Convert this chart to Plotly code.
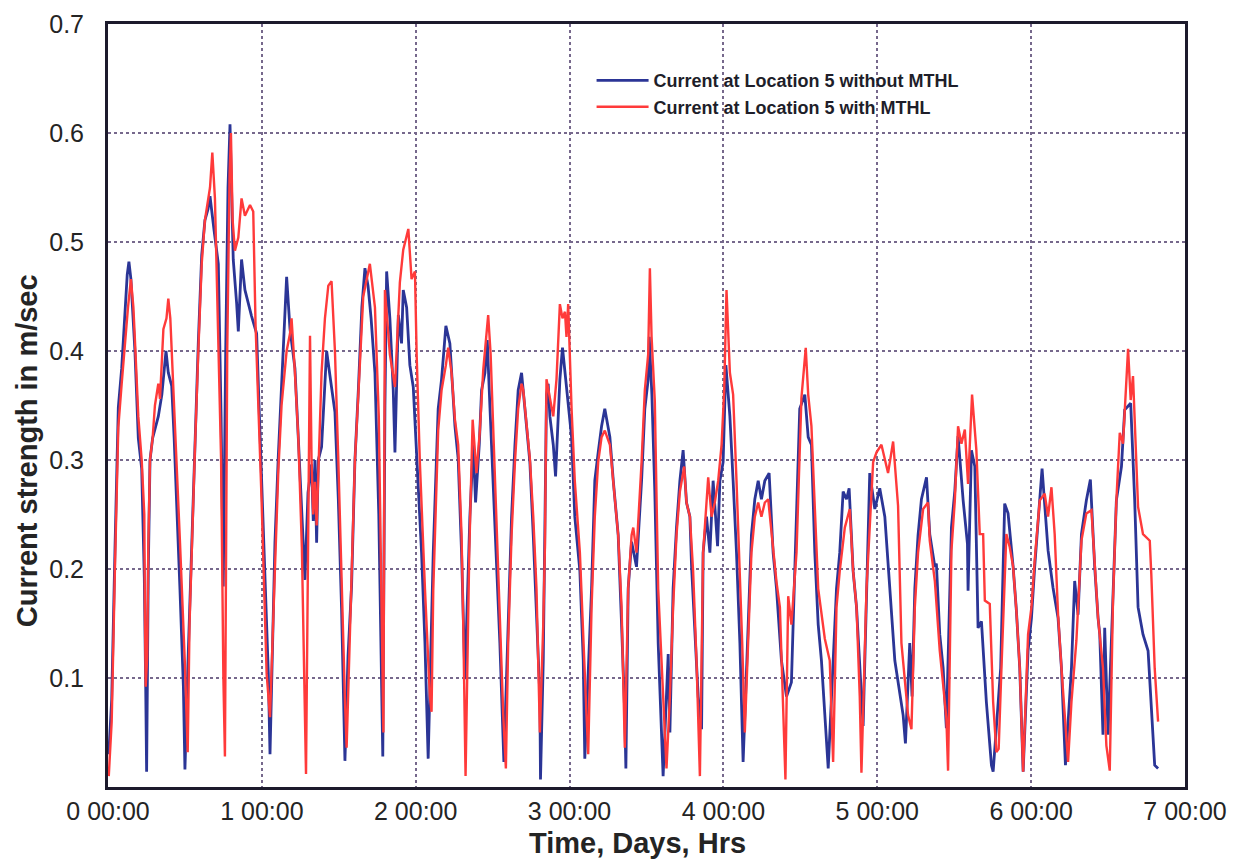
import plotly.graph_objects as go

# ---- data (time in days, current speed in m/s) ----
blue_days = [
    0.005, 0.024, 0.045, 0.067, 0.089, 0.110, 0.125, 0.136, 0.149, 0.175, 0.197, 0.219, 0.236, 0.245, 0.251,
    0.262, 0.273, 0.290, 0.305, 0.327, 0.350, 0.377, 0.392, 0.414, 0.430, 0.446, 0.468, 0.490, 0.500,
    0.522, 0.548, 0.565, 0.587, 0.609, 0.630, 0.650, 0.663, 0.690, 0.717, 0.735, 0.749, 0.765, 0.780,
    0.793, 0.805, 0.814, 0.836, 0.847, 0.868, 0.890, 0.933, 0.966, 0.988, 1.020, 1.042, 1.053,
    1.085, 1.107, 1.128, 1.150, 1.161, 1.183, 1.215, 1.237, 1.269, 1.280, 1.300, 1.323, 1.334, 1.345,
    1.356, 1.367, 1.388, 1.421, 1.440, 1.453, 1.475, 1.497, 1.518, 1.540, 1.560, 1.583, 1.605, 1.627,
    1.650, 1.670, 1.690, 1.710, 1.735, 1.760, 1.778, 1.786, 1.800, 1.811, 1.832, 1.854, 1.865, 1.887,
    1.908, 1.919, 1.941, 1.962, 1.984, 2.006, 2.038, 2.060, 2.081, 2.114, 2.146, 2.168, 2.196, 2.222,
    2.255, 2.276, 2.298, 2.320, 2.352, 2.374, 2.389, 2.413, 2.428, 2.450, 2.465, 2.482, 2.504, 2.525,
    2.547, 2.573, 2.601, 2.623, 2.645, 2.666, 2.688, 2.720, 2.742, 2.764, 2.785, 2.807, 2.811, 2.829,
    2.850, 2.861, 2.872, 2.894, 2.909, 2.937, 2.954, 2.980, 3.013, 3.034, 3.067, 3.089, 3.099, 3.143,
    3.164, 3.186, 3.208, 3.229, 3.262, 3.284, 3.316, 3.338, 3.359, 3.366, 3.381, 3.403, 3.435, 3.468,
    3.489, 3.511, 3.518, 3.535, 3.554, 3.576, 3.608, 3.641, 3.652, 3.673, 3.695, 3.717, 3.738, 3.760,
    3.782, 3.793, 3.814, 3.836, 3.858, 3.868, 3.890, 3.912, 3.933, 3.962, 3.977, 3.998, 4.016, 4.042,
    4.063, 4.085, 4.107, 4.128, 4.161, 4.182, 4.204, 4.226, 4.247, 4.269, 4.297, 4.323, 4.345, 4.377,
    4.410, 4.442, 4.453, 4.475, 4.496, 4.529, 4.551, 4.572, 4.594, 4.616, 4.637, 4.681, 4.735, 4.756,
    4.778, 4.800, 4.817, 4.843, 4.865, 4.908, 4.930, 4.951, 4.984, 5.016, 5.049, 5.081, 5.114, 5.168,
    5.183, 5.211, 5.226, 5.244, 5.265, 5.287, 5.320, 5.341, 5.374, 5.384, 5.395, 5.406, 5.428, 5.449,
    5.482, 5.504, 5.525, 5.547, 5.558, 5.586, 5.590, 5.612, 5.634, 5.655, 5.677, 5.709, 5.742, 5.753,
    5.802, 5.828, 5.850, 5.883, 5.904, 5.926, 5.948, 5.980, 6.002, 6.023, 6.045, 6.071, 6.110, 6.142,
    6.175, 6.197, 6.223, 6.262, 6.283, 6.305, 6.327, 6.359, 6.385, 6.413, 6.435, 6.446, 6.467, 6.478,
    6.500, 6.532, 6.554, 6.587, 6.608, 6.647, 6.673, 6.695, 6.727, 6.760, 6.781, 6.803, 6.825,
]
blue_speed = [
    0.030, 0.080, 0.216, 0.348, 0.384, 0.432, 0.470, 0.482, 0.466, 0.400, 0.320, 0.292, 0.192, 0.092, 0.014,
    0.200, 0.300, 0.320, 0.328, 0.340, 0.360, 0.400, 0.380, 0.368, 0.320, 0.264, 0.180, 0.092, 0.016,
    0.124, 0.240, 0.312, 0.408, 0.488, 0.520, 0.530, 0.542, 0.510, 0.480, 0.340, 0.184, 0.400, 0.550,
    0.608, 0.530, 0.484, 0.444, 0.418, 0.484, 0.456, 0.432, 0.416, 0.324, 0.184, 0.104, 0.030,
    0.224, 0.304, 0.364, 0.430, 0.468, 0.420, 0.384, 0.320, 0.224, 0.190, 0.270, 0.296, 0.244, 0.300,
    0.224, 0.300, 0.312, 0.400, 0.380, 0.368, 0.344, 0.264, 0.164, 0.024, 0.120, 0.184, 0.300, 0.364,
    0.440, 0.476, 0.460, 0.430, 0.380, 0.250, 0.100, 0.028, 0.350, 0.473, 0.430, 0.364, 0.307, 0.433,
    0.407, 0.456, 0.440, 0.387, 0.367, 0.307, 0.215, 0.132, 0.026, 0.215, 0.347, 0.374, 0.423, 0.407,
    0.331, 0.301, 0.215, 0.099, 0.248, 0.314, 0.261, 0.314, 0.364, 0.380, 0.410, 0.350, 0.281, 0.215,
    0.132, 0.023, 0.149, 0.248, 0.314, 0.364, 0.380, 0.331, 0.298, 0.231, 0.165, 0.083, 0.007, 0.116,
    0.360, 0.370, 0.340, 0.314, 0.285, 0.374, 0.403, 0.364, 0.321, 0.248, 0.198, 0.116, 0.026, 0.182,
    0.281, 0.307, 0.331, 0.347, 0.321, 0.281, 0.231, 0.149, 0.066, 0.017, 0.182, 0.225, 0.202, 0.281,
    0.347, 0.374, 0.413, 0.360, 0.271, 0.132, 0.010, 0.122, 0.050, 0.182, 0.238, 0.281, 0.309, 0.261,
    0.248, 0.202, 0.149, 0.083, 0.053, 0.215, 0.248, 0.215, 0.281, 0.221, 0.281, 0.298, 0.387, 0.340,
    0.281, 0.215, 0.132, 0.023, 0.149, 0.231, 0.264, 0.281, 0.264, 0.281, 0.288, 0.215, 0.182, 0.116,
    0.083, 0.096, 0.149, 0.248, 0.347, 0.360, 0.321, 0.314, 0.215, 0.149, 0.116, 0.017, 0.182, 0.215,
    0.271, 0.264, 0.274, 0.198, 0.165, 0.056, 0.182, 0.288, 0.255, 0.274, 0.248, 0.182, 0.116, 0.066,
    0.040, 0.132, 0.083, 0.182, 0.231, 0.264, 0.284, 0.232, 0.202, 0.205, 0.177, 0.140, 0.109, 0.054,
    0.238, 0.272, 0.322, 0.278, 0.263, 0.223, 0.180, 0.309, 0.294, 0.146, 0.152, 0.078, 0.020, 0.014,
    0.109, 0.260, 0.251, 0.202, 0.162, 0.109, 0.014, 0.125, 0.155, 0.202, 0.245, 0.292, 0.217, 0.183,
    0.155, 0.109, 0.020, 0.109, 0.189, 0.158, 0.232, 0.263, 0.282, 0.202, 0.155, 0.140, 0.048, 0.146,
    0.048, 0.171, 0.263, 0.294, 0.346, 0.352, 0.263, 0.165, 0.140, 0.125, 0.078, 0.020, 0.017,
]

red_days = [
    0.005, 0.024, 0.045, 0.067, 0.089, 0.110, 0.130, 0.149, 0.165, 0.175, 0.197, 0.219, 0.236, 0.240, 0.245,
    0.255, 0.262, 0.273, 0.290, 0.305, 0.327, 0.338, 0.360, 0.380, 0.392, 0.405, 0.435, 0.468, 0.500,
    0.518, 0.530, 0.548, 0.565, 0.587, 0.609, 0.630, 0.663, 0.678, 0.695, 0.715, 0.735, 0.750, 0.760,
    0.775, 0.790, 0.799, 0.810, 0.825, 0.847, 0.868, 0.890, 0.923, 0.944, 0.959, 0.998, 1.031, 1.053,
    1.085, 1.107, 1.128, 1.161, 1.183, 1.193, 1.215, 1.237, 1.260, 1.280, 1.287, 1.313, 1.323, 1.334,
    1.345, 1.356, 1.367, 1.388, 1.410, 1.432, 1.453, 1.475, 1.497, 1.518, 1.540, 1.551, 1.583, 1.605,
    1.627, 1.659, 1.702, 1.735, 1.760, 1.780, 1.790, 1.800, 1.832, 1.865, 1.897, 1.919, 1.952, 1.973,
    1.995, 2.006, 2.027, 2.060, 2.092, 2.103, 2.114, 2.146, 2.168, 2.196, 2.211, 2.233, 2.255, 2.276,
    2.298, 2.309, 2.324, 2.348, 2.370, 2.395, 2.417, 2.439, 2.456, 2.471, 2.487, 2.504, 2.525, 2.547,
    2.569, 2.586, 2.601, 2.623, 2.645, 2.666, 2.688, 2.699, 2.720, 2.742, 2.764, 2.785, 2.807, 2.829,
    2.840, 2.850, 2.872, 2.894, 2.915, 2.937, 2.954, 2.970, 2.980, 2.991, 3.013, 3.034, 3.067, 3.089,
    3.110, 3.121, 3.143, 3.164, 3.186, 3.208, 3.229, 3.262, 3.284, 3.316, 3.338, 3.359, 3.381, 3.403,
    3.414, 3.435, 3.468, 3.489, 3.511, 3.522, 3.533, 3.554, 3.576, 3.608, 3.630, 3.652, 3.673, 3.695,
    3.717, 3.745, 3.760, 3.782, 3.803, 3.825, 3.847, 3.868, 3.890, 3.901, 3.923, 3.944, 3.966, 3.988,
    4.005, 4.020, 4.042, 4.063, 4.085, 4.107, 4.122, 4.139, 4.161, 4.182, 4.204, 4.226, 4.247, 4.269,
    4.291, 4.323, 4.345, 4.367, 4.388, 4.403, 4.421, 4.442, 4.475, 4.507, 4.535, 4.551, 4.572, 4.594,
    4.616, 4.659, 4.691, 4.713, 4.735, 4.756, 4.789, 4.821, 4.843, 4.865, 4.886, 4.897, 4.930, 4.973,
    4.995, 5.027, 5.070, 5.103, 5.135, 5.157, 5.200, 5.222, 5.244, 5.265, 5.298, 5.330, 5.341, 5.374,
    5.406, 5.428, 5.449, 5.460, 5.482, 5.504, 5.525, 5.547, 5.569, 5.590, 5.616, 5.644, 5.666, 5.688,
    5.699, 5.731, 5.753, 5.774, 5.789, 5.807, 5.839, 5.861, 5.883, 5.904, 5.926, 5.948, 5.980, 6.002,
    6.023, 6.056, 6.088, 6.110, 6.132, 6.153, 6.175, 6.197, 6.240, 6.262, 6.294, 6.327, 6.359, 6.392,
    6.413, 6.435, 6.467, 6.489, 6.511, 6.532, 6.554, 6.576, 6.597, 6.630, 6.647, 6.662, 6.695, 6.727,
    6.771, 6.781, 6.803, 6.825,
]
red_speed = [
    0.010, 0.060, 0.200, 0.330, 0.370, 0.410, 0.440, 0.466, 0.440, 0.410, 0.340, 0.300, 0.250, 0.160, 0.092,
    0.120, 0.220, 0.300, 0.320, 0.350, 0.370, 0.356, 0.420, 0.430, 0.448, 0.430, 0.336, 0.224, 0.112,
    0.032, 0.150, 0.240, 0.310, 0.400, 0.480, 0.520, 0.550, 0.582, 0.540, 0.420, 0.300, 0.100, 0.028,
    0.400, 0.560, 0.600, 0.520, 0.492, 0.504, 0.540, 0.524, 0.534, 0.528, 0.424, 0.264, 0.104, 0.064,
    0.200, 0.290, 0.350, 0.400, 0.416, 0.430, 0.380, 0.320, 0.220, 0.070, 0.012, 0.414, 0.300, 0.250,
    0.280, 0.240, 0.290, 0.380, 0.430, 0.460, 0.464, 0.400, 0.300, 0.180, 0.080, 0.036, 0.184, 0.300,
    0.360, 0.450, 0.480, 0.440, 0.340, 0.150, 0.050, 0.456, 0.397, 0.367, 0.463, 0.493, 0.512, 0.466,
    0.473, 0.397, 0.298, 0.182, 0.083, 0.069, 0.180, 0.327, 0.364, 0.387, 0.403, 0.380, 0.337, 0.314,
    0.231, 0.149, 0.010, 0.215, 0.337, 0.288, 0.327, 0.383, 0.413, 0.433, 0.397, 0.327, 0.248, 0.165,
    0.066, 0.017, 0.132, 0.231, 0.298, 0.347, 0.370, 0.364, 0.331, 0.301, 0.248, 0.182, 0.050, 0.149,
    0.221, 0.374, 0.357, 0.340, 0.374, 0.443, 0.430, 0.436, 0.413, 0.443, 0.347, 0.281, 0.215, 0.132,
    0.066, 0.030, 0.165, 0.248, 0.298, 0.321, 0.327, 0.314, 0.281, 0.231, 0.165, 0.036, 0.182, 0.231,
    0.238, 0.215, 0.298, 0.364, 0.397, 0.476, 0.413, 0.354, 0.182, 0.083, 0.017, 0.083, 0.165, 0.231,
    0.271, 0.294, 0.261, 0.248, 0.198, 0.116, 0.010, 0.215, 0.255, 0.284, 0.248, 0.261, 0.281, 0.314,
    0.364, 0.456, 0.380, 0.360, 0.281, 0.198, 0.132, 0.050, 0.132, 0.215, 0.248, 0.261, 0.248, 0.261,
    0.264, 0.215, 0.188, 0.165, 0.083, 0.007, 0.175, 0.149, 0.215, 0.357, 0.403, 0.360, 0.331, 0.248,
    0.182, 0.136, 0.116, 0.023, 0.165, 0.198, 0.238, 0.255, 0.198, 0.165, 0.083, 0.013, 0.182, 0.298,
    0.307, 0.314, 0.288, 0.317, 0.258, 0.132, 0.066, 0.053, 0.165, 0.215, 0.255, 0.261, 0.226, 0.189,
    0.125, 0.094, 0.063, 0.015, 0.217, 0.263, 0.331, 0.315, 0.328, 0.278, 0.360, 0.309, 0.232, 0.232,
    0.171, 0.168, 0.078, 0.032, 0.035, 0.109, 0.232, 0.220, 0.202, 0.162, 0.109, 0.014, 0.140, 0.165,
    0.208, 0.263, 0.269, 0.248, 0.275, 0.232, 0.158, 0.109, 0.023, 0.078, 0.134, 0.226, 0.251, 0.254,
    0.202, 0.155, 0.109, 0.038, 0.015, 0.171, 0.263, 0.325, 0.315, 0.402, 0.355, 0.377, 0.257, 0.232,
    0.226, 0.195, 0.109, 0.060,
]

series_names = ["Current at Location 5 without MTHL", "Current at Location 5 with MTHL"]
x_tick_values = [0, 1, 2, 3, 4, 5, 6, 7]
x_tick_labels = ["0 00:00", "1 00:00", "2 00:00", "3 00:00", "4 00:00", "5 00:00", "6 00:00", "7 00:00"]
y_tick_values = [0.1, 0.2, 0.3, 0.4, 0.5, 0.6, 0.7]
y_tick_labels = ["0.1", "0.2", "0.3", "0.4", "0.5", "0.6", "0.7"]
x_title = "Time, Days, Hrs"
y_title = "Current strength in m/sec"

BLUE = "#2b3596"
RED = "#ff3a3a"
FONT = "Liberation Sans, Arial, sans-serif"
TEXT = "#242424"

fig = go.Figure()
fig.add_trace(go.Scatter(x=blue_days, y=blue_speed, mode="lines", name=series_names[0],
                         line=dict(color=BLUE, width=2.8)))
fig.add_trace(go.Scatter(x=red_days, y=red_speed, mode="lines", name=series_names[1],
                         line=dict(color=RED, width=2.4)))

grid_color = "#76688c"
fig.update_xaxes(range=[0, 7], tickvals=x_tick_values, ticktext=x_tick_labels,
                 showgrid=True, gridcolor=grid_color, griddash="dot", gridwidth=1.5,
                 showline=True, mirror=True, linecolor="#1c1a2c", linewidth=3,
                 ticks="", zeroline=False,
                 tickfont=dict(family=FONT, size=25, color=TEXT))
fig.update_yaxes(range=[0, 0.7], tickvals=y_tick_values, ticktext=y_tick_labels,
                 showgrid=True, gridcolor=grid_color, griddash="dot", gridwidth=1.5,
                 showline=True, mirror=True, linecolor="#1c1a2c", linewidth=3,
                 ticks="", zeroline=False, ticklabelstandoff=16,
                 tickfont=dict(family=FONT, size=25, color=TEXT))

# axis titles placed as in the reference (y title sits below the axis centre)
fig.add_annotation(text="<b>" + x_title + "</b>", xref="paper", yref="paper",
                   x=0.4916, y=0, yshift=-56, xanchor="center", yanchor="middle",
                   showarrow=False, font=dict(family=FONT, size=29, color=TEXT))
fig.add_annotation(text="<b>" + y_title + "</b>", xref="paper", yref="paper",
                   x=0, xshift=-81, y=0.440, xanchor="center", yanchor="middle",
                   textangle=-90, showarrow=False, font=dict(family=FONT, size=29, color=TEXT))

fig.update_layout(
    width=1241, height=861,
    margin=dict(l=108, r=56, t=24, b=74, autoexpand=False),
    paper_bgcolor="white", plot_bgcolor="white",
    showlegend=True,
    legend=dict(x=0.449, y=0.950, xanchor="left", yanchor="top", itemwidth=52,
                bgcolor="rgba(0,0,0,0)", borderwidth=0, tracegroupgap=0,
                font=dict(family=FONT, size=18, weight="bold", color="#1e1e2a")),
)

fig.write_html("out.html")
